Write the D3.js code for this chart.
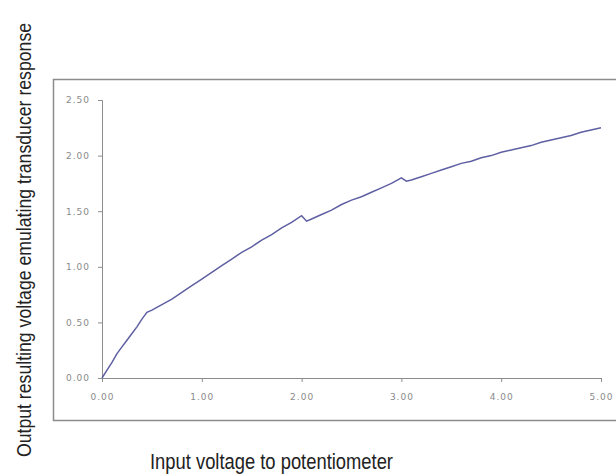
<!DOCTYPE html>
<html>
<head>
<meta charset="utf-8">
<script src="https://cdn.jsdelivr.net/npm/d3@7"></script>
<style>
  body { margin: 0; background: #fff; }
  .tick text { font-family: "DejaVu Sans", sans-serif; font-size: 9px; fill: #8a8a8a; letter-spacing: 1px; }
  .title { font-family: "Liberation Sans Narrow", "Liberation Sans", Arial, sans-serif; fill: #222; }
</style>
</head>
<body>
<div id="chart"></div>
<script>
// data
var inputVoltage = [0, 0.05, 0.1, 0.15, 0.2, 0.25, 0.3, 0.35, 0.4, 0.45, 0.5,
  0.6, 0.7, 0.8, 0.9, 1.0, 1.1, 1.2, 1.3, 1.4, 1.5, 1.6, 1.7, 1.8, 1.9, 2.0,
  2.05, 2.1, 2.2, 2.3, 2.4, 2.5, 2.6, 2.7, 2.8, 2.9, 3.0,
  3.05, 3.1, 3.2, 3.3, 3.4, 3.5, 3.6, 3.7, 3.8, 3.9, 4.0,
  4.1, 4.2, 4.3, 4.4, 4.5, 4.6, 4.7, 4.8, 4.9, 5.0];
var outputVoltage = [0, 0.07, 0.14, 0.22, 0.28, 0.34, 0.40, 0.46, 0.53, 0.59, 0.61,
  0.66, 0.71, 0.77, 0.83, 0.89, 0.95, 1.01, 1.07, 1.13, 1.18, 1.24, 1.29, 1.35, 1.40, 1.46,
  1.41, 1.43, 1.47, 1.51, 1.56, 1.60, 1.63, 1.67, 1.71, 1.75, 1.80,
  1.77, 1.78, 1.81, 1.84, 1.87, 1.90, 1.93, 1.95, 1.98, 2.00, 2.03,
  2.05, 2.07, 2.09, 2.12, 2.14, 2.16, 2.18, 2.21, 2.23, 2.25];
var xTicks = [0, 1, 2, 3, 4, 5];
var yTicks = [0, 0.5, 1, 1.5, 2, 2.5];

var xTitle = "Input voltage to potentiometer";
var yTitle = "Output resulting voltage emulating transducer response";

var svgWidth = 616;
var svgHeight = 476;

var svg = d3.select("#chart")
  .append("svg")
  .attr("width", svgWidth)
  .attr("height", svgHeight);

// chart area frame (runs off the right edge)
svg.append("path")
  .attr("d", "M640,79.5 H53.5 V420.5 H640")
  .attr("fill", "none")
  .attr("stroke", "#8c8c8c")
  .attr("stroke-width", 1.5);

var xScale = d3.scaleLinear().domain([0, 5]).range([102, 601]);
var yScale = d3.scaleLinear().domain([0, 2.5]).range([378, 100]);

var bottomAxis = d3.axisBottom(xScale)
  .tickValues(xTicks)
  .tickSize(4)
  .tickSizeOuter(4)
  .tickPadding(12)
  .tickFormat(d3.format(".2f"));

var leftAxis = d3.axisLeft(yScale)
  .tickValues(yTicks)
  .tickSize(4)
  .tickSizeOuter(4)
  .tickPadding(8)
  .tickFormat(d3.format(".2f"));

var xAxis = svg.append("g")
  .attr("transform", "translate(0, 378)")
  .call(bottomAxis);

var yAxis = svg.append("g")
  .attr("transform", "translate(102, 0)")
  .call(leftAxis);

svg.selectAll(".domain, .tick line")
  .attr("stroke", "#8c8c8c");

// the response line
var points = inputVoltage.map(function(d, i) { return [d, outputVoltage[i]]; });

var line = d3.line()
  .x(d => xScale(d[0]))
  .y(d => yScale(d[1]));

svg.append("path")
  .datum(points)
  .attr("d", line)
  .attr("fill", "none")
  .attr("stroke", "#5f5fa3")
  .attr("stroke-width", 1.5);

// axis titles
svg.append("text")
  .attr("class", "title")
  .attr("x", 150)
  .attr("y", 469)
  .attr("font-size", "22px")
  .attr("textLength", 243)
  .attr("lengthAdjust", "spacingAndGlyphs")
  .text(xTitle);

// tall, narrow lettering like the original: small font stretched across the baseline
svg.append("text")
  .attr("class", "title")
  .attr("transform", "translate(31, 240) rotate(-90) scale(1.04, 1.2)")
  .attr("text-anchor", "middle")
  .attr("font-size", "17px")
  .text(yTitle);
</script>
</body>
</html>
